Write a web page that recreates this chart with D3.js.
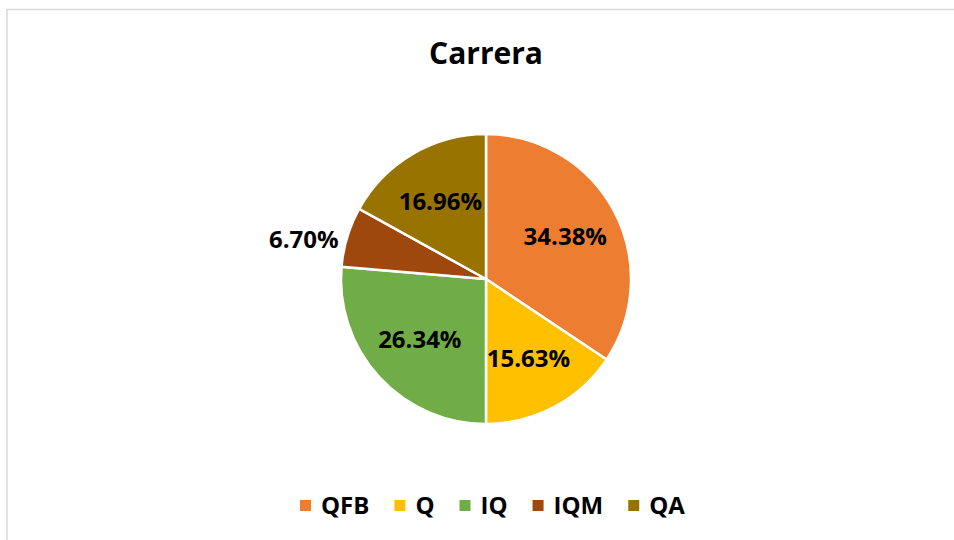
<!DOCTYPE html>
<html>
<head>
<meta charset="utf-8">
<script src="https://cdn.jsdelivr.net/npm/d3@7"></script>
<style>
  body { margin: 0; background: #fff; }
  text { font-family: "Open Sans", Lato, sans-serif; font-weight: bold; fill: #000; }
</style>
</head>
<body>
<div id="chart"></div>
<script>
// data
var categories = ["QFB", "Q", "IQ", "IQM", "QA"];
var values = [34.38, 15.63, 26.34, 6.70, 16.96];
var colors = ["#ED7D31", "#FFC000", "#70AD47", "#9E480E", "#997300"];
var title = "Carrera";

var width = 954, height = 540;
var cx = 486, cy = 279, radius = 145;

var svg = d3.select("#chart")
  .append("svg")
  .attr("width", width)
  .attr("height", height);

// chart area border (runs off the right and bottom edges)
svg.append("rect")
  .attr("x", 7).attr("y", 9.5)
  .attr("width", 1000).attr("height", 600)
  .attr("fill", "none")
  .attr("stroke", "#d9d9d9")
  .attr("stroke-width", 1.5);

svg.append("text")
  .attr("x", cx).attr("y", 64)
  .attr("text-anchor", "middle")
  .style("font-size", "30px")
  .text(title);

var rows = categories.map(function(c, i) { return { name: c, value: values[i], color: colors[i] }; });

var pie = d3.pie().sort(null).value(function(d) { return d.value; });
var arc = d3.arc().innerRadius(0).outerRadius(radius);
var labelArc = d3.arc().innerRadius(radius * 0.62).outerRadius(radius * 0.62);

var g = svg.append("g").attr("transform", "translate(" + cx + "," + cy + ")");

var arcs = pie(rows);

g.selectAll("path")
  .data(arcs)
  .enter()
  .append("path")
  .attr("d", arc)
  .attr("fill", function(d) { return d.data.color; })
  .attr("stroke", "#fff")
  .attr("stroke-width", 2.5);

g.selectAll(".lbl")
  .data(arcs)
  .enter()
  .append("text")
  .attr("class", "lbl")
  .style("font-size", "24px")
  .attr("dy", "0.35em")
  .attr("text-anchor", function(d) { return d.data.value < 10 ? "end" : "middle"; })
  .attr("transform", function(d) {
    if (d.data.value < 10) {
      // small slice: label sits just outside the edge
      var a = (d.startAngle + d.endAngle) / 2;
      var r = radius + 9;
      return "translate(" + (Math.sin(a) * r) + "," + (-Math.cos(a) * r + 5) + ")";
    }
    var c = labelArc.centroid(d);
    return "translate(" + c[0] + "," + c[1] + ")";
  })
  .text(function(d) { return d.data.value.toFixed(2) + "%"; });

// legend
var legend = svg.append("g");
var lx = 300, ly = 506;
var item = legend.selectAll("g")
  .data(rows)
  .enter()
  .append("g");

var x = lx;
item.each(function(d) {
  var s = d3.select(this);
  s.append("rect")
    .attr("x", x).attr("y", ly - 6)
    .attr("width", 11).attr("height", 11)
    .attr("fill", d.color);
  var t = s.append("text")
    .attr("x", x + 21).attr("y", ly)
    .attr("dy", "0.35em")
    .style("font-size", "24px")
    .text(d.name);
  x = x + 21 + t.node().getComputedTextLength() + 25;
});
</script>
</body>
</html>
